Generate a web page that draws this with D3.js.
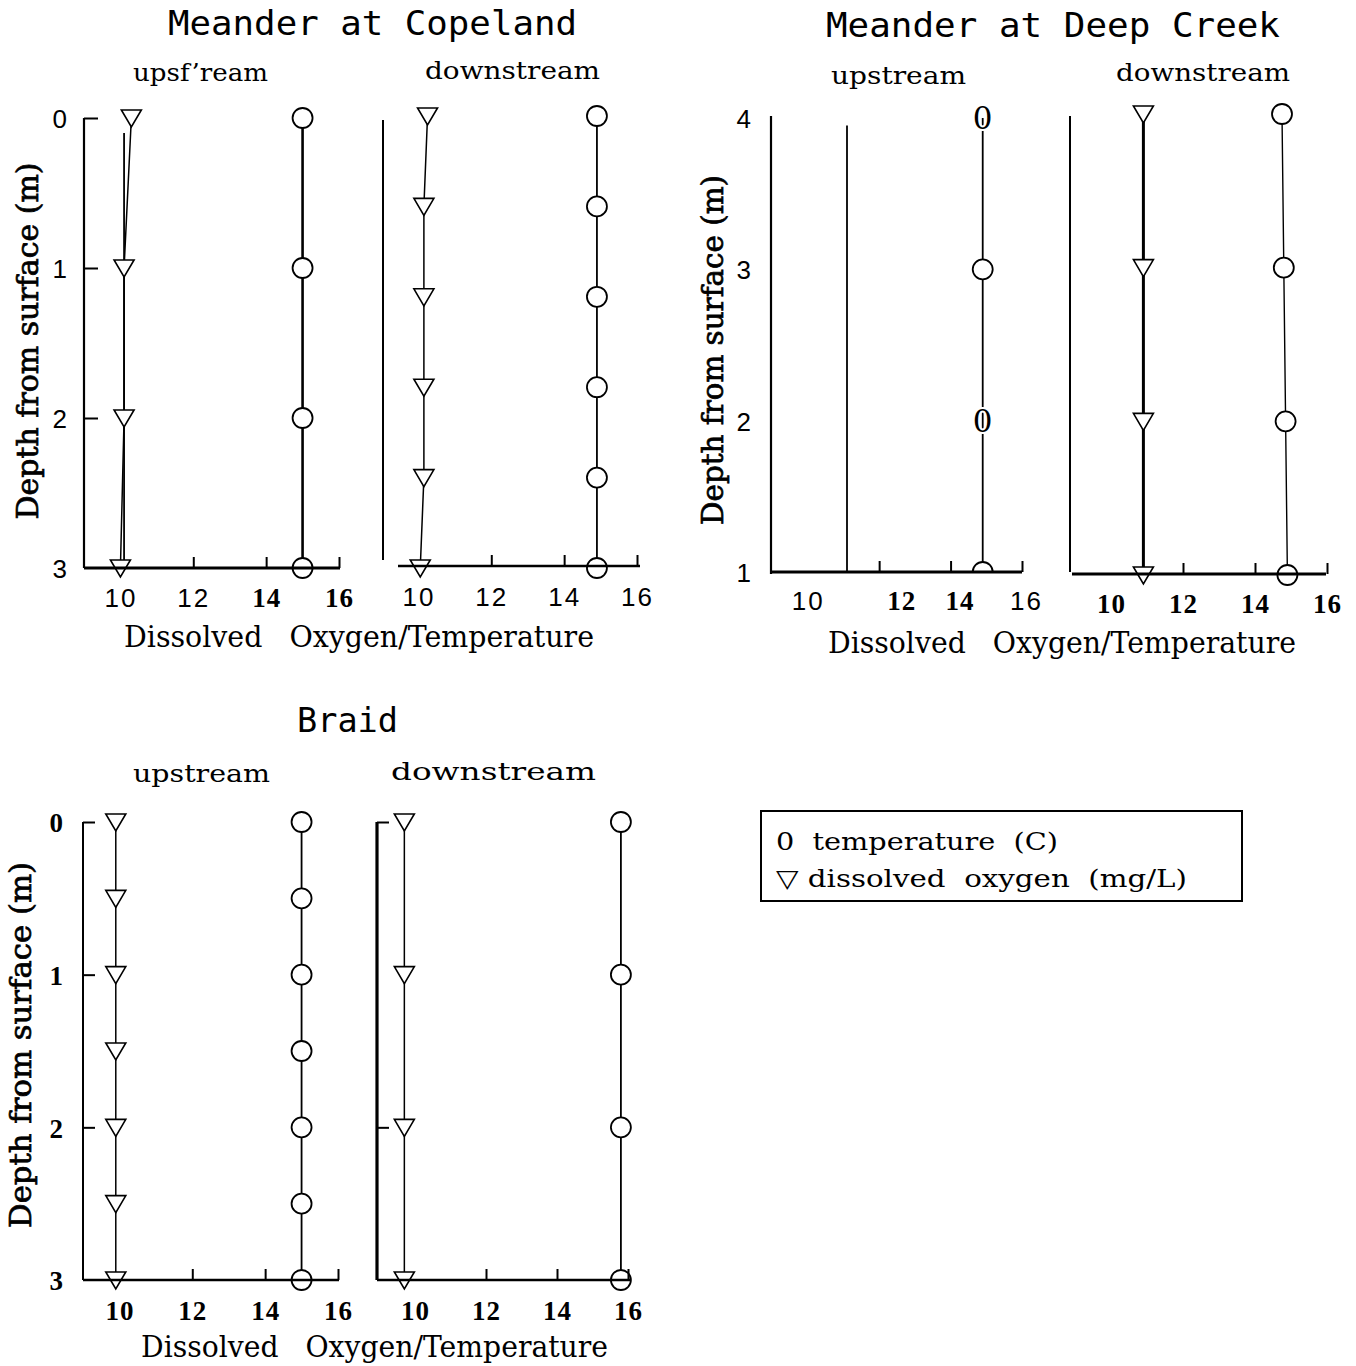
<!DOCTYPE html>
<html>
<head>
<meta charset="utf-8">
<script src="https://cdn.jsdelivr.net/npm/d3@7"></script>
<style>
  body { margin: 0; background: #fff; }
  svg { display: block; }
  text { white-space: pre; }
</style>
</head>
<body>
<svg id="chart" width="1356" height="1366"></svg>
<script>
// ---- Depth profiles: dissolved oxygen (mg/L) and temperature (C) ----

// Meander at Copeland, upstream
const copelandUpDepth = [0, 1, 2, 3];
const copelandUpOxygen = [10.3, 10.1, 10.1, 10.0];
const copelandUpTemp = [15.0, 15.0, 15.0, 15.0];
const copelandUpOxygenTraceDepth = [0.1, 3];
const copelandUpOxygenTrace = [10.1, 10.1];

// Meander at Copeland, downstream
const copelandDownDepth = [0, 0.6, 1.2, 1.8, 2.4, 3];
const copelandDownOxygen = [10.25, 10.15, 10.15, 10.15, 10.15, 10.05];
const copelandDownTemp = [14.9, 14.9, 14.9, 14.9, 14.9, 14.9];

// Meander at Deep Creek, upstream
const deepUpDepth = [4, 3, 2, 1];
const deepUpTemp = [14.9, 14.9, 14.9, 14.9];
const deepUpTempMarker = ["zero", "circle", "zero", "circle"];
const deepUpOxygenDepth = [3.95, 0.97];
const deepUpOxygen = [11.1, 11.1];

// Meander at Deep Creek, downstream
const deepDownDepth = [4, 3, 2, 1];
const deepDownOxygen = [10.9, 10.9, 10.9, 10.9];
const deepDownTemp = [14.75, 14.8, 14.85, 14.9];

// Braid, upstream
const braidUpDepth = [0, 0.5, 1, 1.5, 2, 2.5, 3];
const braidUpOxygen = [9.9, 9.9, 9.9, 9.9, 9.9, 9.9, 9.9];
const braidUpTemp = [15.0, 15.0, 15.0, 15.0, 15.0, 15.0, 15.0];

// Braid, downstream
const braidDownDepth = [0, 1, 2, 3];
const braidDownOxygen = [9.7, 9.7, 9.7, 9.7];
const braidDownTemp = [15.8, 15.8, 15.8, 15.8];

// Axis ticks and labels
const xTickValues = [10, 12, 14, 16];
const xTickMarks = [12, 14, 16];
const depthTicksShallow = [0, 1, 2, 3];
const depthTicksDeep = [4, 3, 2, 1];

const siteTitles = ["Meander at Copeland", "Meander at Deep Creek", "Braid"];
const reachLabels = ["upsf\u2019ream", "downstream", "upstream", "downstream", "upstream", "downstream"];
const xAxisTitle = "Dissolved   Oxygen/Temperature";
const yAxisTitle = "Depth from surface (m)";
const legendLabels = ["0  temperature  (C)", "\u25BD dissolved  oxygen  (mg/L)"];

// ---- Styles ----
const FONT = {
  sans: { family: "'Liberation Sans', Arial, sans-serif", weight: "normal", size: 26, spacing: 2 },
  serif: { family: "'Liberation Serif', 'Times New Roman', serif", weight: "bold", size: 27, spacing: 1 }
};
const SERIF_TEXT = "'DejaVu Serif', serif";
const MONO_TEXT = "'DejaVu Sans Mono', monospace";

const zip = (d, v, m) => d.map((depth, i) => ({ depth, value: v[i], marker: m ? m[i] : null }));

// ---- Panel layout ----
const panels = [
  {
    xRange: [84, 339], yRange: [118, 568], depthDomain: [0, 3],
    left: { x: 84, y: [118, 568], w: 2.2 }, bottom: { y: 568, x: [84, 340], w: 3 },
    yTicks: [0, 1, 2], yTickLen: 14, yLabels: depthTicksShallow, yLabelFont: "sans", yLabelX: 69,
    xLabelFonts: ["sans", "sans", "serif", "serif"], xLabelY: 607,
    series: [
      { data: zip(copelandUpOxygenTraceDepth, copelandUpOxygenTrace), marker: null, w: 1.8 },
      { data: zip(copelandUpDepth, copelandUpOxygen), marker: "tri", w: 1.5 },
      { data: zip(copelandUpDepth, copelandUpTemp), marker: "circle", w: 2.6 }
    ]
  },
  {
    xRange: [382, 637], yRange: [116, 568], depthDomain: [0, 3],
    left: { x: 383, y: [120, 560], w: 2 }, bottom: { y: 566, x: [398, 640], w: 2.6 },
    yTicks: [], yLabels: [], xLabelFonts: ["sans", "sans", "sans", "sans"], xLabelY: 606,
    series: [
      { data: zip(copelandDownDepth, copelandDownOxygen), marker: "tri", w: 1.5 },
      { data: zip(copelandDownDepth, copelandDownTemp), marker: "circle", w: 1.8 }
    ]
  },
  {
    xRange: [772, 1022], yRange: [118, 572], depthDomain: [4, 1], clip: true,
    left: { x: 771, y: [116, 574], w: 2.2 }, bottom: { y: 572, x: [771, 1022], w: 3 },
    yTicks: [], yLabels: depthTicksDeep, yLabelFont: "sans", yLabelX: 753,
    xLabelFonts: ["sans", "serif", "serif", "sans"], xLabelY: 610, xLabelShift: [0, 22, 9, 4],
    series: [
      { data: zip(deepUpOxygenDepth, deepUpOxygen), marker: null, w: 1.8 },
      { data: zip(deepUpDepth, deepUpTemp, deepUpTempMarker), marker: "each", w: 1.8 }
    ]
  },
  {
    xRange: [1075, 1327], yRange: [114, 575], depthDomain: [4, 1],
    left: { x: 1070, y: [116, 572], w: 2 }, bottom: { y: 574, x: [1072, 1326], w: 3 },
    yTicks: [], yLabels: [], xLabelFonts: ["serif", "serif", "serif", "serif"], xLabelY: 613,
    series: [
      { data: zip(deepDownDepth, deepDownOxygen), marker: "tri", w: 3 },
      { data: zip(deepDownDepth, deepDownTemp), marker: "circle", w: 1.4 }
    ]
  },
  {
    xRange: [83, 338], yRange: [822, 1280], depthDomain: [0, 3],
    left: { x: 83, y: [822, 1280], w: 2 }, bottom: { y: 1280, x: [83, 339], w: 2.4 },
    yTicks: [0, 1, 2], yTickLen: 12, yLabels: depthTicksShallow, yLabelFont: "serif", yLabelX: 64,
    xLabelFonts: ["serif", "serif", "serif", "serif"], xLabelY: 1320,
    series: [
      { data: zip(braidUpDepth, braidUpOxygen), marker: "tri", w: 1.5 },
      { data: zip(braidUpDepth, braidUpTemp), marker: "circle", w: 1.8 }
    ]
  },
  {
    xRange: [379.5, 628], yRange: [822, 1280], depthDomain: [0, 3],
    left: { x: 377, y: [822, 1280], w: 3.2 }, bottom: { y: 1280, x: [377, 630], w: 2.6 },
    yTicks: [0, 2], yTickLen: 12, yLabels: [], xLabelFonts: ["serif", "serif", "serif", "serif"], xLabelY: 1320,
    series: [
      { data: zip(braidDownDepth, braidDownOxygen), marker: "tri", w: 1.5 },
      { data: zip(braidDownDepth, braidDownTemp), marker: "circle", w: 1.8 }
    ]
  }
];

const svg = d3.select("#chart");
const defs = svg.append("defs");

function drawMarker(g, type, cx, cy) {
  if (type === "circle") {
    g.append("circle").attr("cx", cx).attr("cy", cy).attr("r", 10)
      .attr("fill", "#fff").attr("stroke", "#000").attr("stroke-width", 1.8);
  } else if (type === "tri") {
    const p = d3.path();
    p.moveTo(cx - 10, cy - 8); p.lineTo(cx + 10, cy - 8); p.lineTo(cx, cy + 9); p.closePath();
    g.append("path").attr("d", p.toString())
      .attr("fill", "#fff").attr("stroke", "#000").attr("stroke-width", 1.6).attr("stroke-linejoin", "miter");
  } else if (type === "zero") {
    g.append("text").attr("x", cx).attr("y", cy).attr("dy", "0.36em")
      .attr("text-anchor", "middle").attr("font-family", SERIF_TEXT).attr("font-size", 31)
      .attr("fill", "#000").attr("stroke", "#fff").attr("stroke-width", 4)
      .attr("paint-order", "stroke").text("0");
  }
}

function applyFont(sel, key) {
  const f = FONT[key];
  sel.attr("font-family", f.family).attr("font-weight", f.weight)
    .attr("font-size", f.size).attr("letter-spacing", f.spacing);
}

panels.forEach((p, pi) => {
  const x = d3.scaleLinear().domain([9, 16]).range(p.xRange);
  const y = d3.scaleLinear().domain(p.depthDomain).range(p.yRange);
  const g = svg.append("g").attr("class", "panel panel-" + pi);

  const plot = g.append("g");
  if (p.clip) {
    const id = "clip-" + pi;
    defs.append("clipPath").attr("id", id).append("rect")
      .attr("x", p.left.x).attr("y", 0)
      .attr("width", p.bottom.x[1] - p.left.x + 20).attr("height", p.bottom.y);
    plot.attr("clip-path", `url(#${id})`);
  }

  const line = d3.line().x(d => x(d.value)).y(d => y(d.depth));
  p.series.forEach(s => {
    plot.append("path").datum(s.data).attr("d", line)
      .attr("fill", "none").attr("stroke", "#000").attr("stroke-width", s.w);
  });
  p.series.forEach(s => {
    if (!s.marker) return;
    s.data.forEach(d => drawMarker(plot, s.marker === "each" ? d.marker : s.marker, x(d.value), y(d.depth)));
  });

  // Frame lines
  g.append("line").attr("x1", p.left.x).attr("x2", p.left.x)
    .attr("y1", p.left.y[0]).attr("y2", p.left.y[1])
    .attr("stroke", "#000").attr("stroke-width", p.left.w);
  g.append("line").attr("x1", p.bottom.x[0]).attr("x2", p.bottom.x[1])
    .attr("y1", p.bottom.y).attr("y2", p.bottom.y)
    .attr("stroke", "#000").attr("stroke-width", p.bottom.w);

  // X axis: tick marks pointing inward, labels below
  const xAxisG = g.append("g").attr("transform", `translate(0,${p.bottom.y})`)
    .call(d3.axisBottom(x).tickValues(xTickValues).tickSize(-11).tickSizeOuter(0).tickFormat(d3.format("d")));
  xAxisG.select(".domain").remove();
  xAxisG.attr("font-family", null).attr("font-size", null);
  xAxisG.selectAll(".tick line")
    .attr("stroke", "#000").attr("stroke-width", 2)
    .attr("display", d => xTickMarks.includes(d) ? null : "none");
  xAxisG.selectAll(".tick text").each(function (d, i) {
    const t = d3.select(this);
    applyFont(t, p.xLabelFonts[i]);
    t.attr("fill", "#000").attr("dy", null).attr("y", p.xLabelY - p.bottom.y)
      .attr("x", p.xLabelShift ? p.xLabelShift[i] : 0);
  });

  // Y axis: short inward ticks and depth labels
  if (p.yTicks.length) {
    const yt = g.append("g").attr("transform", `translate(${p.left.x},0)`)
      .call(d3.axisLeft(y).tickValues(p.yTicks).tickSize(-p.yTickLen).tickSizeOuter(0).tickFormat(""));
    yt.select(".domain").remove();
    yt.selectAll(".tick line").attr("stroke", "#000").attr("stroke-width", 2);
  }
  if (p.yLabels.length) {
    const yl = g.append("g").attr("transform", `translate(${p.yLabelX},0)`)
      .call(d3.axisLeft(y).tickValues(p.yLabels).tickSize(0).tickPadding(0).tickFormat(d3.format("d")));
    yl.select(".domain").remove();
    yl.attr("font-family", null).attr("font-size", null);
    yl.selectAll(".tick text").each(function () {
      const t = d3.select(this);
      applyFont(t, p.yLabelFont);
      t.attr("fill", "#000").attr("dy", "0.36em");
    });
  }
});

// ---- Text: site titles, reach labels, axis titles ----
const titleSpecs = [
  { cx: 372.5, y: 35, len: 409 },
  { cx: 1053, y: 37, len: 454 },
  { cx: 347.5, y: 732, len: 101 }
];
siteTitles.forEach((t, i) => {
  const s = titleSpecs[i];
  svg.append("text").attr("x", s.cx).attr("y", s.y).attr("text-anchor", "middle")
    .attr("font-family", MONO_TEXT).attr("font-size", 33)
    .attr("textLength", s.len).attr("lengthAdjust", "spacingAndGlyphs").text(t);
});

const reachSpecs = [
  { cx: 200.5, y: 81, len: 135 },
  { cx: 512.5, y: 79, len: 175 },
  { cx: 898.5, y: 84, len: 135 },
  { cx: 1203, y: 81, len: 174 },
  { cx: 201.5, y: 782, len: 137 },
  { cx: 493.5, y: 780, len: 205 }
];
reachLabels.forEach((t, i) => {
  const s = reachSpecs[i];
  svg.append("text").attr("x", s.cx).attr("y", s.y).attr("text-anchor", "middle")
    .attr("font-family", SERIF_TEXT).attr("font-size", 25)
    .attr("textLength", s.len).attr("lengthAdjust", "spacingAndGlyphs").text(t);
});

[{ cx: 359, y: 647, len: 470 }, { cx: 1062, y: 653, len: 468 }, { cx: 374.5, y: 1357, len: 467 }]
  .forEach(s => {
    svg.append("text").attr("x", s.cx).attr("y", s.y).attr("text-anchor", "middle")
      .attr("font-family", SERIF_TEXT).attr("font-size", 29)
      .attr("textLength", s.len).attr("lengthAdjust", "spacingAndGlyphs").text(xAxisTitle);
  });

[{ bx: 38, cy: 341, len: 357 }, { bx: 723, cy: 350, len: 350 }, { bx: 31, cy: 1045, len: 366 }]
  .forEach(s => {
    svg.append("text").attr("transform", `translate(${s.bx},${s.cy}) rotate(-90)`)
      .attr("text-anchor", "middle").attr("font-family", SERIF_TEXT).attr("font-size", 29)
      .attr("stroke", "#000").attr("stroke-width", 0.7)
      .attr("textLength", s.len).attr("lengthAdjust", "spacingAndGlyphs").text(yAxisTitle);
  });

// ---- Legend ----
const legend = svg.append("g");
legend.append("rect").attr("x", 761).attr("y", 811).attr("width", 481).attr("height", 90)
  .attr("fill", "none").attr("stroke", "#000").attr("stroke-width", 2);
[{ y: 850, len: 282 }, { y: 887, len: 411 }].forEach((s, i) => {
  legend.append("text").attr("x", 776).attr("y", s.y)
    .attr("font-family", SERIF_TEXT).attr("font-size", 25)
    .attr("textLength", s.len).attr("lengthAdjust", "spacingAndGlyphs").text(legendLabels[i]);
});
</script>
</body>
</html>
